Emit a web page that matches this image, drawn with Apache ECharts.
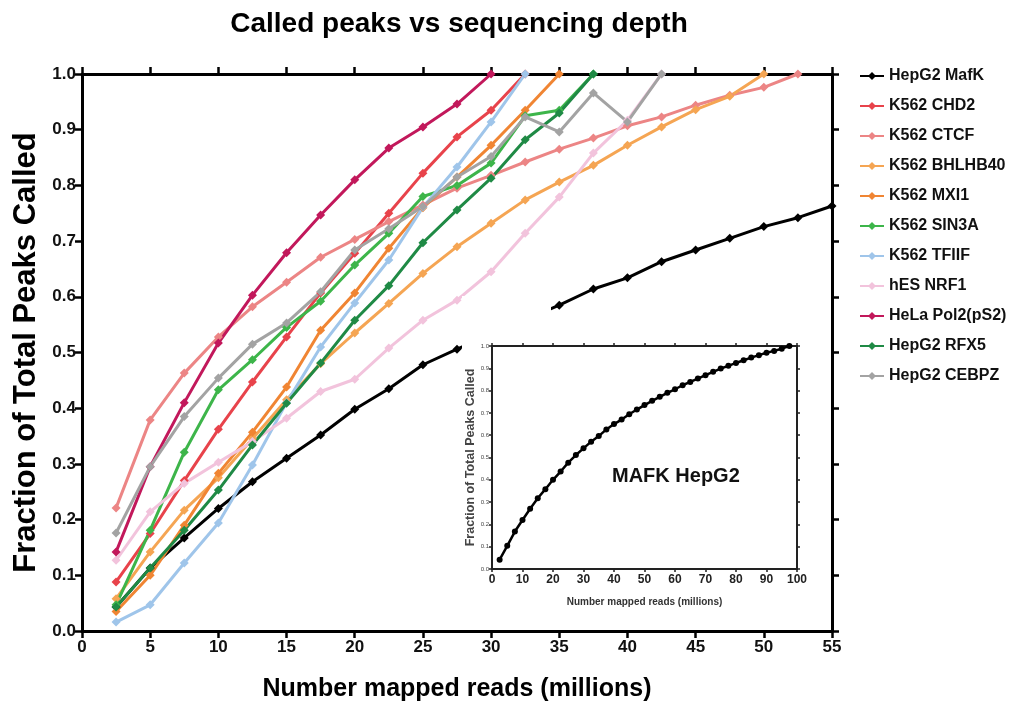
<!DOCTYPE html>
<html>
<head>
<meta charset="utf-8">
<script src="https://cdn.jsdelivr.net/npm/echarts@6/dist/echarts.min.js"></script>
<style>
  html, body { margin: 0; padding: 0; background: #fff; }
  #main { width: 1015px; height: 712px; }
</style>
</head>
<body>
<div id="main"></div>
<script>
// x positions (millions of reads) shared by every main series
var reads = [2.5, 5, 7.5, 10, 12.5, 15, 17.5, 20, 22.5, 25, 27.5, 30, 32.5, 35, 37.5, 40, 42.5, 45, 47.5, 50, 52.5, 55];

// fraction of total peaks called (null = hidden behind inset)
var hepg2Mafk = [0.043, 0.113, 0.167, 0.22, 0.268, 0.31, 0.352, 0.398, 0.435, 0.478, 0.506, null, null, 0.585, 0.614, 0.634, 0.663, 0.684, 0.705, 0.726, 0.742, 0.763];
var k562Chd2 = [0.088, 0.175, 0.27, 0.362, 0.447, 0.528, 0.607, 0.678, 0.75, 0.822, 0.887, 0.935, 1.0];
var k562Ctcf = [0.221, 0.379, 0.463, 0.528, 0.582, 0.626, 0.671, 0.703, 0.735, 0.765, 0.795, 0.818, 0.842, 0.865, 0.885, 0.907, 0.923, 0.944, 0.962, 0.976, 1.0];
var k562Bhlhb40 = [0.058, 0.142, 0.217, 0.275, 0.345, 0.415, 0.48, 0.535, 0.588, 0.642, 0.69, 0.732, 0.774, 0.806, 0.836, 0.872, 0.905, 0.936, 0.96, 1.0];
var k562Mxi1 = [0.035, 0.1, 0.19, 0.283, 0.357, 0.438, 0.54, 0.607, 0.687, 0.76, 0.815, 0.872, 0.935, 1.0];
var k562Sin3a = [0.047, 0.181, 0.321, 0.433, 0.487, 0.545, 0.592, 0.657, 0.714, 0.78, 0.8, 0.84, 0.925, 0.935, 1.0];
var k562Tfiif = [0.016, 0.047, 0.122, 0.194, 0.298, 0.41, 0.51, 0.589, 0.666, 0.761, 0.833, 0.914, 1.0];
var hesNrf1 = [0.127, 0.214, 0.265, 0.303, 0.34, 0.382, 0.43, 0.452, 0.508, 0.558, 0.594, 0.645, 0.714, 0.779, 0.858, 0.917, 1.0];
var helaPol2 = [0.142, 0.295, 0.41, 0.517, 0.603, 0.679, 0.747, 0.81, 0.867, 0.905, 0.946, 1.0];
var hepg2Rfx5 = [0.043, 0.113, 0.181, 0.253, 0.334, 0.409, 0.481, 0.558, 0.62, 0.697, 0.756, 0.813, 0.882, 0.93, 1.0];
var hepg2Cebpz = [0.176, 0.295, 0.385, 0.454, 0.515, 0.553, 0.609, 0.684, 0.722, 0.762, 0.815, 0.852, 0.923, 0.896, 0.966, 0.914, 1.0];

// inset: MAFK HepG2 out to 100M reads
var insetReads = [2.5, 5, 7.5, 10, 12.5, 15, 17.5, 20, 22.5, 25, 27.5, 30, 32.5, 35, 37.5, 40, 42.5, 45, 47.5, 50,
                  52.5, 55, 57.5, 60, 62.5, 65, 67.5, 70, 72.5, 75, 77.5, 80, 82.5, 85, 87.5, 90, 92.5, 95, 97.5];
var insetFrac = [0.042, 0.104, 0.168, 0.22, 0.27, 0.317, 0.358, 0.4, 0.437, 0.477, 0.511, 0.541, 0.571, 0.596, 0.626, 0.65, 0.67, 0.694, 0.715, 0.735,
                 0.754, 0.772, 0.79, 0.806, 0.824, 0.839, 0.854, 0.869, 0.884, 0.899, 0.911, 0.924, 0.936, 0.948, 0.959, 0.97, 0.978, 0.988, 1.0];

var names = ['HepG2 MafK', 'K562 CHD2', 'K562 CTCF', 'K562 BHLHB40', 'K562 MXI1', 'K562 SIN3A', 'K562 TFIIF', 'hES NRF1', 'HeLa Pol2(pS2)', 'HepG2 RFX5', 'HepG2 CEBPZ'];
var values = [hepg2Mafk, k562Chd2, k562Ctcf, k562Bhlhb40, k562Mxi1, k562Sin3a, k562Tfiif, hesNrf1, helaPol2, hepg2Rfx5, hepg2Cebpz];
var colors = ['#000000', '#e8434b', '#ec8585', '#f5a553', '#f08533', '#3db54a', '#9fc5ea', '#f2c3dc', '#c2185b', '#1f8a45', '#a3a3a3'];

var FONT = 'Liberation Sans, Arial, sans-serif';

function zip(xs, ys) {
    return ys.map(function (y, i) { return [xs[i], y]; });
}

var series = names.map(function (n, i) {
    return {
        name: n,
        type: 'line',
        xAxisIndex: 0,
        yAxisIndex: 0,
        data: zip(reads, values[i]),
        connectNulls: true,
        clip: false,
        symbol: 'diamond',
        symbolSize: 9,
        color: colors[i],
        lineStyle: { width: 3 },
        z: 2
    };
});

series.push({
    name: 'inset',
    type: 'line',
    xAxisIndex: 2,
    yAxisIndex: 2,
    data: zip(insetReads, insetFrac),
    symbol: 'circle',
    symbolSize: 6,
    color: '#000',
    lineStyle: { width: 2.5 },
    clip: false,
    z: 60
});

function frameAxis(opt) {
    var base = {
        axisLine: { show: true, onZero: false, lineStyle: { color: '#000', width: 3 } },
        axisTick: { show: true, inside: false, length: 7, lineStyle: { color: '#000', width: 2.5 } },
        splitLine: { show: false },
        axisLabel: { show: false }
    };
    return Object.assign(base, opt);
}

// thinner frame for the inset, kept above the white patch
function insetAxis(opt) {
    return frameAxis(Object.assign({
        gridIndex: 1,
        z: 60,
        axisLine: { show: true, onZero: false, lineStyle: { color: '#222', width: 2 } },
        axisTick: { show: true, inside: false, length: 3, lineStyle: { color: '#222', width: 1.5 } }
    }, opt));
}

var chart = echarts.init(document.getElementById('main'));
chart.setOption({
    backgroundColor: '#fff',
    animation: false,
    title: {
        text: 'Called peaks vs sequencing depth',
        left: 454,
        textAlign: 'center',
        top: 5,
        textStyle: { fontFamily: FONT, fontWeight: 'bold', fontSize: 28, color: '#000' }
    },
    legend: {
        data: names,
        orient: 'vertical',
        left: 854,
        top: 63,
        itemWidth: 24,
        itemHeight: 10,
        itemGap: 14,
        textStyle: { fontFamily: FONT, fontWeight: 'bold', fontSize: 16, color: '#111' }
    },
    grid: [
        { left: 82, right: 183, top: 74, bottom: 81 },
        { left: 492, right: 218, top: 346, bottom: 143 }
    ],
    xAxis: [
        frameAxis({
            type: 'value', gridIndex: 0, position: 'bottom', min: 0, max: 55, interval: 5,
            name: 'Number mapped reads (millions)', nameLocation: 'middle', nameGap: 46,
            nameTextStyle: { fontFamily: FONT, fontWeight: 'bold', fontSize: 25, color: '#000' },
            axisLabel: { show: true, fontFamily: FONT, fontWeight: 'bold', fontSize: 17, color: '#111', margin: 8 }
        }),
        frameAxis({ type: 'value', gridIndex: 0, position: 'top', min: 0, max: 55, interval: 5 }),
        insetAxis({
            type: 'value', position: 'bottom', min: 0, max: 100, interval: 10,
            name: 'Number mapped reads (millions)', nameLocation: 'middle', nameGap: 28,
            nameTextStyle: { fontFamily: FONT, fontWeight: 'bold', fontSize: 10, color: '#333' },
            axisLabel: { show: true, fontFamily: FONT, fontWeight: 'bold', fontSize: 12, color: '#222', margin: 5 }
        }),
        insetAxis({ type: 'value', position: 'top', min: 0, max: 100, interval: 10 })
    ],
    yAxis: [
        frameAxis({
            type: 'value', gridIndex: 0, position: 'left', min: 0, max: 1, interval: 0.1,
            name: 'Fraction of Total Peaks Called', nameLocation: 'middle', nameGap: 35,
            nameTextStyle: { fontFamily: FONT, fontWeight: 'bold', fontSize: 31, color: '#000' },
            axisLabel: { show: true, fontFamily: FONT, fontWeight: 'bold', fontSize: 17, color: '#111', margin: 6,
                formatter: function (v) { return v.toFixed(1); } }
        }),
        frameAxis({ type: 'value', gridIndex: 0, position: 'right', min: 0, max: 1, interval: 0.1 }),
        insetAxis({
            type: 'value', position: 'left', min: 0, max: 1, interval: 0.1,
            name: 'Fraction of Total Peaks Called', nameLocation: 'middle', nameGap: 14,
            nameTextStyle: { fontFamily: FONT, fontWeight: 'bold', fontSize: 12.5, color: '#444' },
            axisLabel: { show: true, fontFamily: FONT, fontSize: 6, color: '#444', margin: 3,
                formatter: function (v) { return v.toFixed(1); } }
        }),
        insetAxis({ type: 'value', position: 'right', min: 0, max: 1, interval: 0.1 })
    ],
    graphic: [
        // white patch where the pasted inset image hides part of the main black curve
        { type: 'rect', left: 462, top: 296, shape: { width: 89, height: 60 }, style: { fill: '#fff' }, z: 50 },
        { type: 'text', left: 612, top: 466, z: 60,
          style: { text: 'MAFK HepG2', fontFamily: FONT, fontWeight: 'bold', fontSize: 20, fill: '#111' } }
    ],
    series: series
});
</script>
</body>
</html>
